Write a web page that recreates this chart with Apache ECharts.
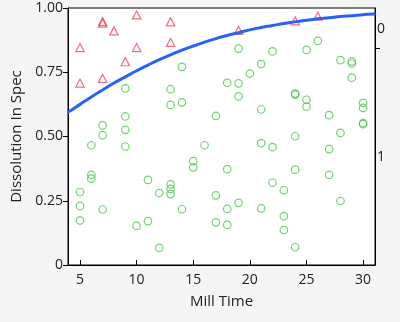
<!DOCTYPE html>
<html>
<head>
<meta charset="utf-8">
<script src="https://cdn.jsdelivr.net/npm/echarts@6/dist/echarts.min.js"></script>
<style>
html,body{margin:0;padding:0;background:#f5f5f5;}
#c{width:400px;height:322px;}
</style>
</head>
<body>
<div id="c"></div>
<script>
// Response = 1 (in spec): green circles [Mill Time, jittered position]
const inSpec = [
  [5,0.284],[5,0.230],[5,0.173],
  [6,0.466],[6,0.351],[6,0.336],
  [7,0.543],[7,0.505],[7,0.216],
  [9,0.687],[9,0.578],[9,0.526],[9,0.461],
  [10,0.152],
  [11,0.331],[11,0.171],
  [12,0.280],[12,0.067],
  [13,0.684],[13,0.623],[13,0.314],[13,0.296],[13,0.276],
  [14,0.771],[14,0.633],[14,0.217],
  [15,0.404],[15,0.380],
  [16,0.466],
  [17,0.580],[17,0.271],[17,0.166],
  [18,0.709],[18,0.373],[18,0.218],[18,0.156],
  [19,0.842],[19,0.707],[19,0.656],[19,0.242],
  [20,0.745],
  [21,0.782],[21,0.605],[21,0.474],[21,0.220],
  [22,0.831],[22,0.459],[22,0.320],
  [23,0.291],[23,0.190],[23,0.136],
  [24,0.667],[24,0.663],[24,0.501],[24,0.371],[24,0.069],
  [25,0.837],[25,0.643],[25,0.616],
  [26,0.872],
  [27,0.583],[27,0.451],[27,0.351],
  [28,0.797],[28,0.514],[28,0.249],
  [29,0.792],[29,0.784],[29,0.729],
  [30,0.631],[30,0.611],[30,0.552],[30,0.548]
];
// Response = 0 (out of spec): red triangles
const outSpec = [
  [5,0.846],[5,0.708],
  [7,0.947],[7,0.941],[7,0.726],
  [8,0.911],[9,0.791],
  [10,0.973],[10,0.846],
  [13,0.946],[13,0.866],
  [19,0.913],[24,0.950],[26,0.968]
];
// Fitted logistic curve
const curveX = [3.9,4,5,6,7,8,9,10,11,12,13,14,15,16,17,18,19,20,21,22,23,24,25,26,27,28,29,30,31,31.1];
const curveY = [0.594,0.596,0.625,0.654,0.681,0.708,0.732,0.756,0.778,0.799,0.818,0.836,0.852,0.867,0.881,0.893,0.904,0.915,0.924,0.932,0.940,0.946,0.952,0.958,0.962,0.967,0.970,0.974,0.977,0.977];
const xTicks = [5,10,15,20,25,30];
const yTicks = [0,0.25,0.5,0.75,1];
const rightTicks = [0.843];
const rightLabelPos = [0.918,0.42];
const rightLabels = ['0','1'];

const FONT = 'Open Sans';
const chart = echarts.init(document.getElementById('c'));
chart.setOption({
  animation:false,
  backgroundColor:'#f5f5f5',
  grid:{left:68,right:25,top:8,bottom:57,show:true,backgroundColor:'#ffffff',borderColor:'#000',borderWidth:1},
  xAxis:{
    type:'value',min:3.94,max:31.05,
    name:'Mill Time',nameLocation:'middle',nameGap:29,
    nameTextStyle:{fontFamily:FONT,fontSize:15,color:'#222'},
    axisLine:{show:true,lineStyle:{color:'#000',width:1}},
    axisTick:{show:true,inside:true,length:5,customValues:xTicks,lineStyle:{color:'#000'}},
    axisLabel:{customValues:xTicks,margin:8,fontFamily:FONT,fontSize:14,color:'#222'},
    splitLine:{show:false}
  },
  yAxis:[{
    type:'value',min:0,max:1,
    name:'Dissolution In Spec',nameLocation:'middle',nameGap:39,
    nameTextStyle:{fontFamily:FONT,fontSize:15,color:'#222'},
    axisLine:{show:true,lineStyle:{color:'#000',width:1}},
    axisTick:{show:true,inside:false,length:5,customValues:yTicks,lineStyle:{color:'#000'}},
    axisLabel:{customValues:yTicks,margin:5,fontFamily:FONT,fontSize:14,color:'#222',
      formatter:v=>v===0?'0':v.toFixed(2)},
    splitLine:{show:false}
  },{
    type:'value',min:0,max:1,position:'right',
    axisLine:{show:true,lineStyle:{color:'#000',width:1}},
    axisTick:{show:true,inside:false,length:5,customValues:rightTicks,lineStyle:{color:'#000'}},
    axisLabel:{customValues:rightLabelPos,margin:2,fontFamily:FONT,fontSize:14,color:'#222',
      formatter:v=>rightLabels[rightLabelPos.indexOf(v)]},
    splitLine:{show:false}
  }],
  series:[
    {type:'scatter',data:inSpec,symbol:'circle',symbolSize:7.5,
      itemStyle:{color:'rgba(0,0,0,0)',borderColor:'#52c452',borderWidth:1.2},z:3},
    {type:'scatter',data:outSpec,symbol:'triangle',symbolSize:[8.5,8],
      itemStyle:{color:'rgba(0,0,0,0)',borderColor:'#ee4a62',borderWidth:1.2},z:3},
    {type:'line',data:curveX.map((x,i)=>[x,curveY[i]]),smooth:true,showSymbol:false,clip:true,
      lineStyle:{color:'#2a62f2',width:3},z:4}
  ]
});
</script>
</body>
</html>
